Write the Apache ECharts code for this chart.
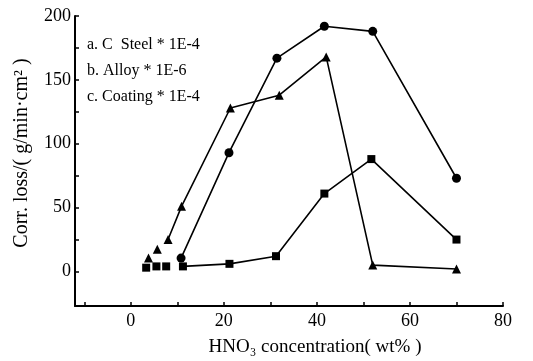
<!DOCTYPE html>
<html>
<head>
<meta charset="utf-8">
<script src="https://cdn.jsdelivr.net/npm/echarts@6/dist/echarts.min.js"></script>
<style>
  html, body { margin: 0; padding: 0; background: #fff; }
  #chart { width: 533px; height: 361px; }
</style>
</head>
<body>
<div id="chart"></div>
<script>
// HNO3 corrosion loss chart

// a. C Steel (circles)
var steelLine = [[10.8, 10.5], [21.1, 93], [31.4, 167], [41.6, 192], [52, 188], [70, 73]];
// b. Alloy (triangles)
var alloyLine = [[8.0, 25], [10.9, 51], [21.4, 128], [31.9, 138], [42, 168], [52, 5], [70, 2]];
var alloyLoose = [[3.8, 10.5], [5.7, 17.5]];
// c. Coating (squares)
var coatLine = [[11.2, 4], [21.2, 6], [31.2, 12], [41.6, 61], [51.7, 88], [70, 25]];
var coatLoose = [[3.3, 3], [5.5, 4], [7.6, 4]];

var xTicks = [-10, 0, 10, 20, 30, 40, 50, 60, 70, 80];
var xLabels = [0, 20, 40, 60, 80];
var yTicks = [0, 25, 50, 75, 100, 125, 150, 175, 200];
var yLabels = [0, 50, 100, 150, 200];
var legendLines = ['a. C  Steel * 1E-4', 'b. Alloy * 1E-6', 'c. Coating * 1E-4'];

var dom = document.getElementById('chart');
var myChart = echarts.init(dom, null, { renderer: 'canvas' });

var serif = '"Liberation Serif", "DejaVu Serif", serif';

var option = {
  animation: false,
  backgroundColor: '#fff',
  grid: { left: 75, right: 30, top: 16, bottom: 55 },
  xAxis: {
    type: 'value',
    min: -12,
    max: 80,
    axisLine: { show: true, onZero: false, lineStyle: { color: '#000', width: 2 } },
    axisTick: { show: true, inside: true, length: 4, customValues: xTicks, lineStyle: { color: '#000', width: 1.5 } },
    axisLabel: { customValues: xLabels, color: '#000', fontFamily: serif, fontSize: 18, margin: 6 },
    splitLine: { show: false }
  },
  yAxis: {
    type: 'value',
    min: -27,
    max: 200,
    axisLine: { show: true, onZero: false, lineStyle: { color: '#000', width: 2 } },
    axisTick: { show: true, inside: true, length: 4, customValues: yTicks, lineStyle: { color: '#000', width: 1.5 } },
    axisLabel: { customValues: yLabels, color: '#000', fontFamily: serif, fontSize: 18, margin: 4 },
    splitLine: { show: false }
  },
  graphic: [
    {
      type: 'text', left: 87, top: 32,
      style: { text: legendLines.join('\n'), fill: '#000', font: '16px ' + serif, lineHeight: 26 }
    },
    {
      type: 'text', x: 22, y: 153, rotation: Math.PI / 2,
      style: { text: 'Corr. loss/( g/min·cm² )', fill: '#000', font: '20px ' + serif, align: 'center', verticalAlign: 'middle' }
    },
    {
      type: 'text', x: 315, y: 347,
      style: { text: 'HNO₃ concentration( wt% )', fill: '#000', font: '19px ' + serif, align: 'center', verticalAlign: 'middle' }
    }
  ],
  series: [
    {
      type: 'line', data: steelLine, symbol: 'circle', symbolSize: 9,
      itemStyle: { color: '#000' }, lineStyle: { color: '#000', width: 1.6 }
    },
    {
      type: 'line', data: alloyLine, symbol: 'triangle', symbolSize: 9,
      itemStyle: { color: '#000' }, lineStyle: { color: '#000', width: 1.6 }
    },
    {
      type: 'scatter', data: alloyLoose, symbol: 'triangle', symbolSize: 9,
      itemStyle: { color: '#000', opacity: 1 }
    },
    {
      type: 'line', data: coatLine, symbol: 'rect', symbolSize: 8,
      itemStyle: { color: '#000' }, lineStyle: { color: '#000', width: 1.6 }
    },
    {
      type: 'scatter', data: coatLoose, symbol: 'rect', symbolSize: 8,
      itemStyle: { color: '#000', opacity: 1 }
    }
  ]
};

if (option && typeof option === 'object') {
  myChart.setOption(option);
}

window.addEventListener('resize', myChart.resize);
</script>
</body>
</html>
